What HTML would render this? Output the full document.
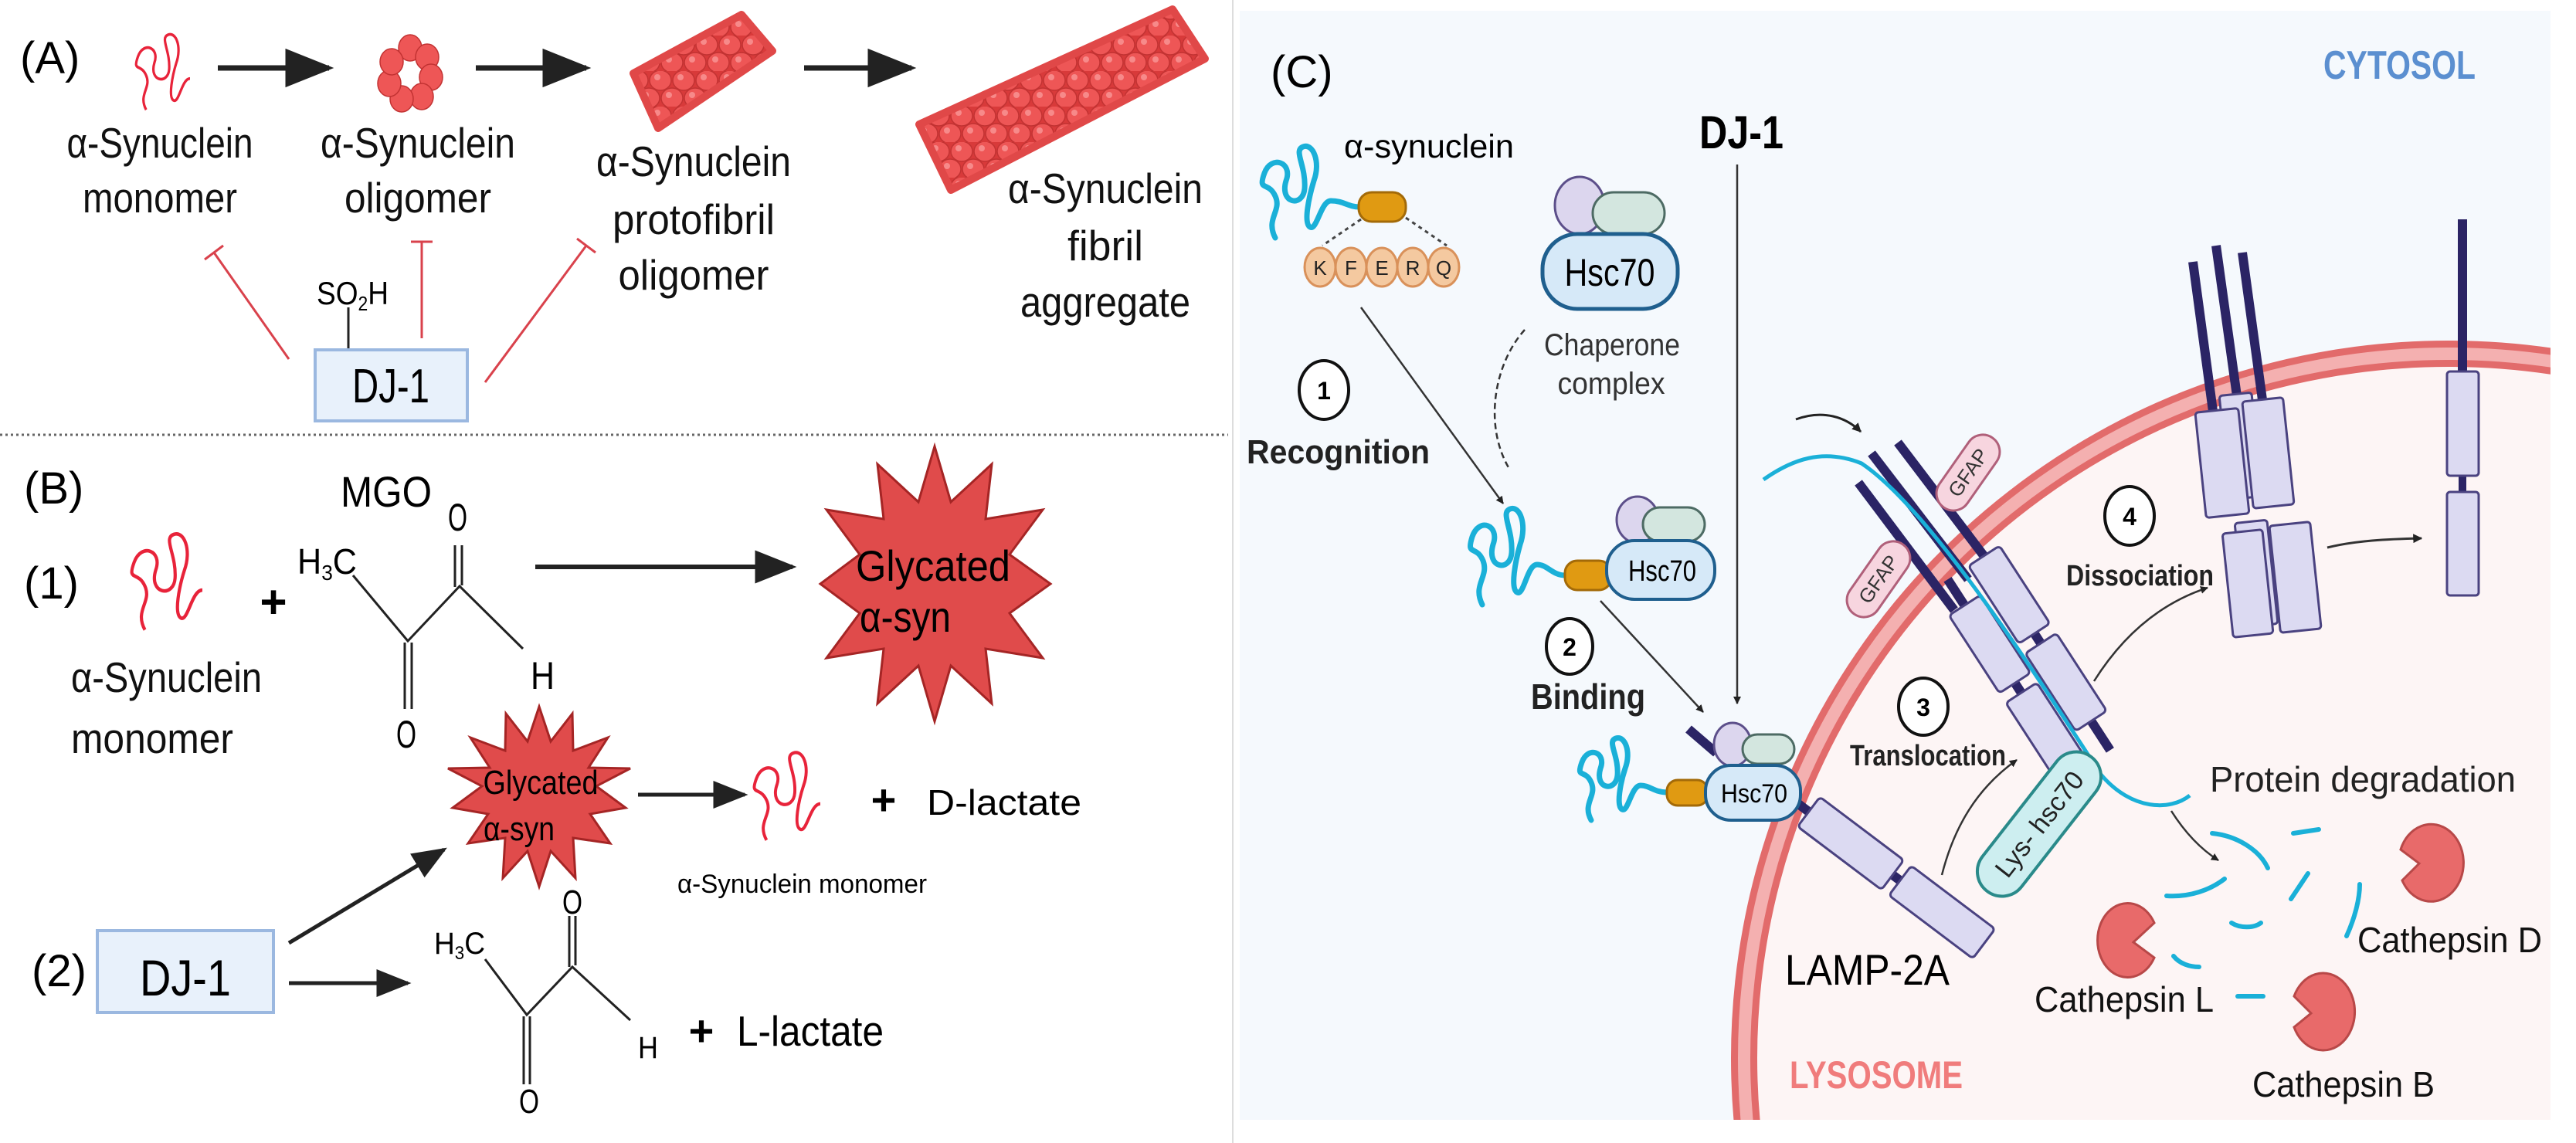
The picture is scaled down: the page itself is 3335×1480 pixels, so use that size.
<!DOCTYPE html>
<html><head><meta charset="utf-8"><style>
html,body{margin:0;padding:0;background:#fff;width:3335px;height:1480px;overflow:hidden;position:relative}
svg{display:block;position:absolute;left:0;top:0;width:3335px;height:1480px;overflow:hidden}
text{font-family:"Liberation Sans",sans-serif}
</style></head><body>
<svg width="3335" height="1480" viewBox="0 0 3335 1480" xmlns="http://www.w3.org/2000/svg">
<defs>
<pattern id="beads" width="30" height="46" patternUnits="userSpaceOnUse">
<rect width="30" height="46" fill="#d83a3a"/>
<ellipse cx="15" cy="12" rx="14" ry="13" fill="#ee5656" stroke="#c23232" stroke-width="1.5"/>
<ellipse cx="0" cy="35" rx="14" ry="13" fill="#ee5656" stroke="#c23232" stroke-width="1.5"/>
<ellipse cx="30" cy="35" rx="14" ry="13" fill="#ee5656" stroke="#c23232" stroke-width="1.5"/>
<circle cx="11" cy="8" r="4" fill="#f78a8a"/>
<circle cx="-4" cy="31" r="4" fill="#f78a8a"/><circle cx="26" cy="31" r="4" fill="#f78a8a"/>
</pattern>
<marker id="ah" viewBox="0 0 10 10" refX="9" refY="5" markerWidth="4" markerHeight="4" orient="auto"><path d="M0,0 L10,5 L0,10 z" fill="#222"/></marker>
<marker id="ahs" viewBox="0 0 10 10" refX="9" refY="5" markerWidth="9" markerHeight="9" orient="auto"><path d="M0,1 L10,5 L0,9 z" fill="#222"/></marker>
<clipPath id="pc"><rect x="1605" y="14" width="1697" height="1436"/></clipPath>
<path id="sq" d="M20,120 C5,95 30,85 20,65 C10,45 -5,60 5,35 C15,10 45,20 35,45 C25,75 60,80 62,55 C64,25 45,5 60,0 C75,-5 85,20 75,45 C68,65 60,100 70,105 C80,110 85,70 100,70"/>
</defs>

<text x="26" y="95" font-size="58">(A)</text>
<g fill="none" stroke="#e8233a" stroke-width="4.5">
<use href="#sq" transform="translate(175,45) scale(0.71,0.81)"/>
</g>
<g stroke="#222" stroke-width="7" marker-end="url(#ahs)">
<line x1="282" y1="88" x2="426" y2="88"/>
<line x1="616" y1="88" x2="759" y2="88"/>
<line x1="1041" y1="88" x2="1180" y2="88"/>
</g>
<g fill="#ee5656" stroke="#c23232" stroke-width="1.5">
<ellipse cx="531" cy="62" rx="15" ry="17"/><ellipse cx="553" cy="74" rx="15" ry="17"/>
<ellipse cx="558" cy="100" rx="15" ry="17"/><ellipse cx="546" cy="125" rx="15" ry="17"/>
<ellipse cx="520" cy="128" rx="15" ry="17"/><ellipse cx="504" cy="108" rx="15" ry="17"/>
<ellipse cx="507" cy="80" rx="15" ry="17"/>
</g>
<polygon points="820,95 960,19 1000,66 852,166" fill="url(#beads)" stroke="#e04848" stroke-width="10" stroke-linejoin="round"/>
<polygon points="1190,161 1518,12 1560,76 1231,246" fill="url(#beads)" stroke="#e04848" stroke-width="10" stroke-linejoin="round"/>
<g font-size="55" text-anchor="middle" fill="#111">
<text x="207" y="204" textLength="241" lengthAdjust="spacingAndGlyphs">α-Synuclein</text>
<text x="207" y="275" textLength="200" lengthAdjust="spacingAndGlyphs">monomer</text>
<text x="541" y="204" textLength="252" lengthAdjust="spacingAndGlyphs">α-Synuclein</text>
<text x="541" y="275" textLength="190" lengthAdjust="spacingAndGlyphs">oligomer</text>
<text x="898" y="228" textLength="252" lengthAdjust="spacingAndGlyphs">α-Synuclein</text>
<text x="898" y="303" textLength="210" lengthAdjust="spacingAndGlyphs">protofibril</text>
<text x="898" y="375" textLength="195" lengthAdjust="spacingAndGlyphs">oligomer</text>
<text x="1431" y="263" textLength="252" lengthAdjust="spacingAndGlyphs">α-Synuclein</text>
<text x="1431" y="337" textLength="98" lengthAdjust="spacingAndGlyphs">fibril</text>
<text x="1431" y="410" textLength="220" lengthAdjust="spacingAndGlyphs">aggregate</text>
</g>
<g stroke="#d9424c" stroke-width="3" fill="none">
<line x1="374" y1="465" x2="277" y2="327"/><line x1="265" y1="336" x2="289" y2="318"/>
<line x1="546" y1="438" x2="546" y2="313"/><line x1="532" y1="313" x2="560" y2="313"/>
<line x1="628" y1="495" x2="759" y2="318"/><line x1="747" y1="309" x2="771" y2="327"/>
</g>
<text x="410" y="394" font-size="42" textLength="93" lengthAdjust="spacingAndGlyphs">SO<tspan font-size="26" dy="8">2</tspan><tspan dy="-8">H</tspan></text>
<line x1="451" y1="398" x2="451" y2="453" stroke="#222" stroke-width="3"/>
<rect x="408" y="453" width="197" height="92" fill="#e8f1fb" stroke="#9bb8e0" stroke-width="4"/>
<text x="506" y="521" font-size="62" text-anchor="middle" textLength="100" lengthAdjust="spacingAndGlyphs">DJ-1</text>

<line x1="0" y1="563" x2="1590" y2="563" stroke="#666" stroke-width="3" stroke-dasharray="3,4"/>
<line x1="1596" y1="0" x2="1596" y2="1480" stroke="#ddd" stroke-width="2"/>

<text x="31" y="652" font-size="58">(B)</text>
<text x="441" y="656" font-size="56" textLength="118" lengthAdjust="spacingAndGlyphs">MGO</text>
<text x="31" y="775" font-size="58">(1)</text>
<g fill="none" stroke="#e8233a" stroke-width="4.5">
<use href="#sq" transform="translate(169,692) scale(0.93,1.03)"/>
</g>
<text x="354" y="800" font-size="60" text-anchor="middle" font-weight="bold">+</text>
<text x="385" y="743" font-size="46" textLength="77" lengthAdjust="spacingAndGlyphs">H<tspan font-size="28" dy="8">3</tspan><tspan dy="-8">C</tspan></text>
<text x="580" y="687" font-size="50" textLength="25" lengthAdjust="spacingAndGlyphs">O</text>
<text x="687" y="892" font-size="50" textLength="31" lengthAdjust="spacingAndGlyphs">H</text>
<text x="513" y="968" font-size="50" textLength="26" lengthAdjust="spacingAndGlyphs">O</text>
<g stroke="#222" stroke-width="3" fill="none">
<polyline points="457,745 528,830 595,759 677,840"/>
<line x1="589" y1="706" x2="589" y2="760"/><line x1="598" y1="706" x2="598" y2="758"/>
<line x1="524" y1="832" x2="524" y2="918"/><line x1="533" y1="832" x2="533" y2="918"/>
</g>
<line x1="693" y1="734" x2="1026" y2="734" stroke="#222" stroke-width="6" marker-end="url(#ahs)"/>
<polygon fill="#e04b4b" stroke="#a52525" stroke-width="3" points="1210,578 1231,650 1284,601 1276,672 1350,660 1307,718 1360,756 1307,794 1350,852 1276,840 1284,911 1231,862 1210,934 1189,862 1136,911 1144,840 1070,852 1113,794 1062,756 1113,718 1070,660 1144,672 1136,601 1189,650"/>
<text x="1208" y="752" font-size="56" text-anchor="middle" textLength="200" lengthAdjust="spacingAndGlyphs">Glycated</text>
<text x="1172" y="818" font-size="56" text-anchor="middle" textLength="118" lengthAdjust="spacingAndGlyphs">α-syn</text>
<g font-size="55" fill="#111">
<text x="92" y="896" textLength="247" lengthAdjust="spacingAndGlyphs">α-Synuclein</text>
<text x="92" y="975" textLength="210" lengthAdjust="spacingAndGlyphs">monomer</text>
</g>
<polygon fill="#e04b4b" stroke="#a52525" stroke-width="3" points="698,915 713,960 741,924 742,972 787,955 762,994 816,995 772,1018 810,1046 764,1054 790,1092 742,1085 745,1137 713,1102 698,1148 683,1102 651,1137 654,1085 606,1092 632,1054 586,1046 624,1018 580,995 634,994 609,955 654,972 655,924 683,960"/>
<text x="700" y="1028" font-size="44" text-anchor="middle" textLength="149" lengthAdjust="spacingAndGlyphs">Glycated</text>
<text x="672" y="1088" font-size="44" text-anchor="middle" textLength="92" lengthAdjust="spacingAndGlyphs">α-syn</text>
<line x1="826" y1="1029" x2="964" y2="1029" stroke="#222" stroke-width="5" marker-end="url(#ahs)"/>
<g fill="none" stroke="#e8233a" stroke-width="4.5">
<use href="#sq" transform="translate(975,975) scale(0.87,0.94)"/>
</g>
<text x="1144" y="1055" font-size="56" text-anchor="middle" font-weight="bold">+</text>
<text x="1200" y="1055" font-size="46" textLength="200" lengthAdjust="spacingAndGlyphs">D-lactate</text>
<text x="877" y="1156" font-size="34" textLength="323" lengthAdjust="spacingAndGlyphs">α-Synuclein monomer</text>
<text x="41" y="1277" font-size="58">(2)</text>
<rect x="126" y="1205" width="228" height="106" fill="#e8f1fb" stroke="#9bb8e0" stroke-width="4"/>
<text x="240" y="1289" font-size="66" text-anchor="middle" textLength="118" lengthAdjust="spacingAndGlyphs">DJ-1</text>
<g stroke="#222" stroke-width="5" marker-end="url(#ahs)">
<line x1="374" y1="1221" x2="575" y2="1100"/>
<line x1="374" y1="1273" x2="528" y2="1273"/>
</g>
<text x="562" y="1235" font-size="40" textLength="66" lengthAdjust="spacingAndGlyphs">H<tspan font-size="24" dy="7">3</tspan><tspan dy="-7">C</tspan></text>
<text x="728" y="1183" font-size="44" textLength="26" lengthAdjust="spacingAndGlyphs">O</text>
<text x="826" y="1370" font-size="40" textLength="26" lengthAdjust="spacingAndGlyphs">H</text>
<text x="672" y="1441" font-size="44" textLength="26" lengthAdjust="spacingAndGlyphs">O</text>
<g stroke="#222" stroke-width="3" fill="none">
<polyline points="628,1242 682,1314 741,1252 816,1321"/>
<line x1="737" y1="1186" x2="737" y2="1252"/><line x1="745" y1="1186" x2="745" y2="1250"/>
<line x1="678" y1="1316" x2="678" y2="1404"/><line x1="686" y1="1316" x2="686" y2="1404"/>
</g>
<text x="908" y="1354" font-size="56" text-anchor="middle" font-weight="bold">+</text>
<text x="954" y="1354" font-size="55" textLength="190" lengthAdjust="spacingAndGlyphs">L-lactate</text>

<rect x="1605" y="14" width="1697" height="1436" fill="#f5f9fd"/>
<g clip-path="url(#pc)">
<circle cx="3170" cy="1370" r="912" fill="#fdf5f5"/>
<circle cx="3170" cy="1370" r="912" fill="none" stroke="#e26b6b" stroke-width="34"/>
<circle cx="3170" cy="1370" r="912" fill="none" stroke="#f4b0b0" stroke-width="16"/>
</g>
<text x="1645" y="113" font-size="58">(C)</text>
<text x="3008" y="102" font-size="52" font-weight="bold" fill="#5b8fd0" textLength="197" lengthAdjust="spacingAndGlyphs">CYTOSOL</text>
<text x="2317" y="1409" font-size="50" font-weight="bold" fill="#f07c7c" textLength="224" lengthAdjust="spacingAndGlyphs">LYSOSOME</text>

<text x="1740" y="204" font-size="43" textLength="220" lengthAdjust="spacingAndGlyphs">α-synuclein</text>
<g fill="none" stroke="#1ab0d8" stroke-width="7" stroke-linecap="round">
<path d="M1651,308 C1638,283 1660,273 1651,254 C1642,234 1628,249 1637,224 C1646,200 1674,210 1665,234 C1656,264 1687,269 1689,244 C1691,214 1674,195 1687,190 C1700,185 1710,210 1701,234 C1695,254 1687,289 1696,294 C1705,299 1710,260 1723,260 C1740,260 1745,268 1760,268"/>
<path d="M1919,783 C1906,757 1928,747 1920,726 C1911,705 1898,721 1906,695 C1915,669 1942,680 1933,705 C1924,736 1955,741 1957,716 C1959,685 1942,664 1955,659 C1968,654 1977,680 1968,705 C1962,726 1955,762 1964,767 C1973,772 1977,731 1990,731 C2003,731 2010,745 2026,745"/>
<path d="M2060,1062 C2048,1040 2068,1031 2060,1013 C2052,995 2040,1009 2048,987 C2056,965 2080,974 2072,995 C2064,1022 2092,1026 2094,1004 C2096,978 2080,960 2092,956 C2104,952 2112,974 2104,995 C2098,1013 2092,1044 2100,1048 C2108,1052 2112,1017 2124,1017 C2136,1017 2142,1026 2158,1026"/>
</g>
<rect x="1759" y="249" width="61" height="38" rx="17" fill="#e09a12" stroke="#a36a08" stroke-width="3"/>
<g stroke="#444" stroke-width="3" stroke-dasharray="5,5"><line x1="1762" y1="284" x2="1712" y2="318"/><line x1="1820" y1="282" x2="1873" y2="318"/></g>
<g fill="#f4c9a0" stroke="#d9915a" stroke-width="3">
<ellipse cx="1709" cy="346" rx="20" ry="25"/><ellipse cx="1749" cy="346" rx="20" ry="25"/><ellipse cx="1789" cy="346" rx="20" ry="25"/><ellipse cx="1829" cy="346" rx="20" ry="25"/><ellipse cx="1869" cy="346" rx="20" ry="25"/>
</g>
<g font-size="26" text-anchor="middle" fill="#222"><text x="1709" y="356">K</text><text x="1749" y="356">F</text><text x="1789" y="356">E</text><text x="1829" y="356">R</text><text x="1869" y="356">Q</text></g>
<ellipse cx="2045" cy="266" rx="32" ry="37" fill="#dcd6ee" stroke="#5c4f8a" stroke-width="3"/>
<rect x="2062" y="249" width="93" height="54" rx="27" fill="#d3e6df" stroke="#4d6b64" stroke-width="3"/>
<rect x="1997" y="303" width="175" height="97" rx="45" fill="#d6e9f8" stroke="#1f5f8e" stroke-width="5"/>
<text x="2084" y="370" font-size="50" text-anchor="middle" textLength="117" lengthAdjust="spacingAndGlyphs">Hsc70</text>
<text x="2087" y="460" font-size="40" text-anchor="middle" fill="#333" textLength="176" lengthAdjust="spacingAndGlyphs">Chaperone</text>
<text x="2086" y="510" font-size="40" text-anchor="middle" fill="#333" textLength="139" lengthAdjust="spacingAndGlyphs">complex</text>
<text x="2200" y="192" font-size="60" font-weight="bold" textLength="109" lengthAdjust="spacingAndGlyphs">DJ-1</text>
<line x1="2249" y1="213" x2="2249" y2="911" stroke="#333" stroke-width="2.5" marker-end="url(#ah)"/>
<ellipse cx="1714" cy="505" rx="32" ry="38" fill="#fff" stroke="#111" stroke-width="4"/>
<text x="1714" y="517" font-size="32" font-weight="bold" text-anchor="middle">1</text>
<text x="1614" y="600" font-size="44" font-weight="bold" fill="#222" textLength="237" lengthAdjust="spacingAndGlyphs">Recognition</text>
<line x1="1762" y1="398" x2="1946" y2="652" stroke="#333" stroke-width="2.5" marker-end="url(#ah)"/>
<path d="M1974,427 C1935,470 1920,550 1954,607" fill="none" stroke="#333" stroke-width="2.5" stroke-dasharray="8,5"/>

<rect x="2026" y="726" width="60" height="38" rx="16" fill="#e09a12" stroke="#a36a08" stroke-width="3"/>
<ellipse cx="2120" cy="673" rx="27" ry="30" fill="#dcd6ee" stroke="#5c4f8a" stroke-width="3"/>
<rect x="2127" y="657" width="80" height="44" rx="22" fill="#d3e6df" stroke="#4d6b64" stroke-width="3"/>
<rect x="2080" y="700" width="140" height="76" rx="36" fill="#d6e9f8" stroke="#1f5f8e" stroke-width="4"/>
<text x="2152" y="752" font-size="38" text-anchor="middle" textLength="88" lengthAdjust="spacingAndGlyphs">Hsc70</text>
<ellipse cx="2032" cy="837" rx="30" ry="36" fill="#fff" stroke="#111" stroke-width="4"/>
<text x="2032" y="849" font-size="32" font-weight="bold" text-anchor="middle">2</text>
<text x="1982" y="918" font-size="46" font-weight="bold" fill="#222" textLength="148" lengthAdjust="spacingAndGlyphs">Binding</text>
<line x1="2072" y1="778" x2="2205" y2="922" stroke="#333" stroke-width="2.5" marker-end="url(#ah)"/>

<g transform="translate(2396,1092) rotate(37)">
<line x1="-110" y1="0" x2="150" y2="0" stroke="#2b2465" stroke-width="12"/>
<rect x="-68" y="-24" width="136" height="48" rx="5" fill="#dcdaf2" stroke="#4a4280" stroke-width="3"/>
<rect x="80" y="-24" width="136" height="48" rx="5" fill="#dcdaf2" stroke="#4a4280" stroke-width="3"/>
</g>
<line x1="2186" y1="944" x2="2222" y2="975" stroke="#2b2465" stroke-width="12"/>
<rect x="2158" y="1010" width="53" height="33" rx="14" fill="#e09a12" stroke="#a36a08" stroke-width="3"/>
<ellipse cx="2243" cy="964" rx="24" ry="28" fill="#dcd6ee" stroke="#5c4f8a" stroke-width="3"/>
<rect x="2256" y="951" width="67" height="38" rx="19" fill="#d3e6df" stroke="#4d6b64" stroke-width="3"/>
<rect x="2208" y="991" width="123" height="71" rx="33" fill="#d6e9f8" stroke="#1f5f8e" stroke-width="4"/>
<text x="2271" y="1039" font-size="34" text-anchor="middle" textLength="86" lengthAdjust="spacingAndGlyphs">Hsc70</text>
<text x="2311" y="1275" font-size="56" textLength="213" lengthAdjust="spacingAndGlyphs">LAMP-2A</text>

<g stroke="#2b2465" stroke-width="12">
<line x1="2406" y1="625" x2="2530" y2="790"/>
<line x1="2423" y1="587" x2="2548" y2="750"/>
<line x1="2457" y1="573" x2="2580" y2="735"/>
</g>
<g transform="translate(2545,735) rotate(57)" stroke-width="3">
<line x1="0" y1="-28" x2="300" y2="-28" stroke="#2b2465" stroke-width="12"/>
<line x1="0" y1="28" x2="300" y2="28" stroke="#2b2465" stroke-width="12"/>
<rect x="0" y="-52" width="120" height="48" rx="5" fill="#dcdaf2" stroke="#4a4280"/>
<rect x="40" y="4" width="120" height="48" rx="5" fill="#dcdaf2" stroke="#4a4280"/>
<rect x="135" y="-52" width="120" height="48" rx="5" fill="#dcdaf2" stroke="#4a4280"/>
<rect x="175" y="4" width="120" height="48" rx="5" fill="#dcdaf2" stroke="#4a4280"/>
</g>
<path d="M2283,621 C2320,595 2360,580 2410,600 C2500,660 2640,880 2720,1003 C2760,1050 2810,1050 2835,1030" fill="none" stroke="#1ab0d8" stroke-width="5"/>
<g transform="translate(2548,612) rotate(-55)"><rect x="-55" y="-22" width="110" height="44" rx="22" fill="#f7d5df" stroke="#b0607a" stroke-width="3"/><text x="0" y="9" font-size="26" text-anchor="middle" fill="#333">GFAP</text></g>
<g transform="translate(2432,750) rotate(-55)"><rect x="-55" y="-22" width="110" height="44" rx="22" fill="#f7d5df" stroke="#b0607a" stroke-width="3"/><text x="0" y="9" font-size="26" text-anchor="middle" fill="#333">GFAP</text></g>
<g transform="translate(2640,1067) rotate(-52)"><rect x="-110" y="-32" width="220" height="64" rx="32" fill="#cdeef0" stroke="#2a8a8a" stroke-width="4"/><text x="0" y="12" font-size="34" text-anchor="middle" fill="#222">Lys- hsc70</text></g>
<path d="M2325,543 C2360,530 2390,540 2409,559" fill="none" stroke="#222" stroke-width="3" marker-end="url(#ah)"/>
<ellipse cx="2490" cy="915" rx="32" ry="37" fill="#fff" stroke="#111" stroke-width="4"/>
<text x="2490" y="927" font-size="32" font-weight="bold" text-anchor="middle">3</text>
<text x="2395" y="991" font-size="38" font-weight="bold" fill="#222" textLength="202" lengthAdjust="spacingAndGlyphs">Translocation</text>
<path d="M2514,1133 C2530,1070 2560,1020 2611,984" fill="none" stroke="#333" stroke-width="2.5" marker-end="url(#ah)"/>
<ellipse cx="2757" cy="668" rx="32" ry="38" fill="#fff" stroke="#111" stroke-width="4"/>
<text x="2757" y="680" font-size="32" font-weight="bold" text-anchor="middle">4</text>
<text x="2675" y="758" font-size="38" font-weight="bold" fill="#222" textLength="191" lengthAdjust="spacingAndGlyphs">Dissociation</text>
<path d="M2711,882 C2750,820 2800,780 2858,761" fill="none" stroke="#333" stroke-width="2.5" marker-end="url(#ah)"/>

<g stroke="#2b2465" stroke-width="12">
<line x1="2839" y1="339" x2="2866" y2="540"/>
<line x1="2869" y1="318" x2="2897" y2="520"/>
<line x1="2903" y1="327" x2="2930" y2="525"/>
</g>
<g fill="#dcdaf2" stroke="#4a4280" stroke-width="3">
<rect x="2880" y="510" width="42" height="135" rx="4" transform="rotate(-6 2901 577)"/>
<rect x="2849" y="531" width="56" height="137" rx="4" transform="rotate(-6 2877 600)"/>
<rect x="2910" y="517" width="53" height="139" rx="4" transform="rotate(-6 2936 587)"/>
<rect x="2900" y="675" width="42" height="135" rx="4" transform="rotate(-6 2921 742)"/>
<rect x="2884" y="688" width="52" height="135" rx="4" transform="rotate(-6 2910 755)"/>
<rect x="2945" y="678" width="53" height="139" rx="4" transform="rotate(-6 2971 747)"/>
</g>
<line x1="3188" y1="284" x2="3188" y2="481" stroke="#2b2465" stroke-width="12"/>
<line x1="3188" y1="610" x2="3188" y2="645" stroke="#2b2465" stroke-width="10"/>
<rect x="3168" y="481" width="41" height="135" rx="4" fill="#dcdaf2" stroke="#4a4280" stroke-width="3"/>
<rect x="3168" y="637" width="41" height="134" rx="4" fill="#dcdaf2" stroke="#4a4280" stroke-width="3"/>
<path d="M3013,709 C3050,700 3090,698 3135,697" fill="none" stroke="#333" stroke-width="3" marker-end="url(#ah)"/>

<text x="2861" y="1025" font-size="46" fill="#222" textLength="396" lengthAdjust="spacingAndGlyphs">Protein degradation</text>
<path d="M2811,1050 C2830,1080 2850,1100 2872,1114" fill="none" stroke="#333" stroke-width="2.5" marker-end="url(#ah)"/>
<g fill="none" stroke="#1ab0d8" stroke-width="6" stroke-linecap="round">
<path d="M2864,1079 C2895,1082 2925,1100 2936,1124"/>
<path d="M2805,1160 C2835,1162 2862,1152 2880,1138"/>
<path d="M2969,1079 L3002,1074"/>
<path d="M2966,1164 L2988,1131"/>
<path d="M2889,1195 C2900,1202 2918,1202 2927,1195"/>
<path d="M3038,1212 C3048,1190 3055,1165 3055,1145"/>
<path d="M2814,1238 C2822,1248 2835,1252 2847,1252"/>
<path d="M2897,1290 L2930,1290"/>
</g>
<g fill="#e86a6a" stroke="#b84848" stroke-width="3">
<path d="M3108,1100 A42,50 0 1 1 3110,1140 L3132,1118 Z"/>
<path d="M2789,1195 A39,48 0 1 0 2789,1240 L2762,1220 Z"/>
<path d="M2970,1290 A41,50 0 1 1 2970,1330 L2992,1312 Z"/>
</g>
<g font-size="46" fill="#111">
<text x="3052" y="1233" textLength="239" lengthAdjust="spacingAndGlyphs">Cathepsin D</text>
<text x="2634" y="1310" textLength="232" lengthAdjust="spacingAndGlyphs">Cathepsin L</text>
<text x="2916" y="1420" textLength="236" lengthAdjust="spacingAndGlyphs">Cathepsin B</text>
</g>
</svg>
</body></html>
